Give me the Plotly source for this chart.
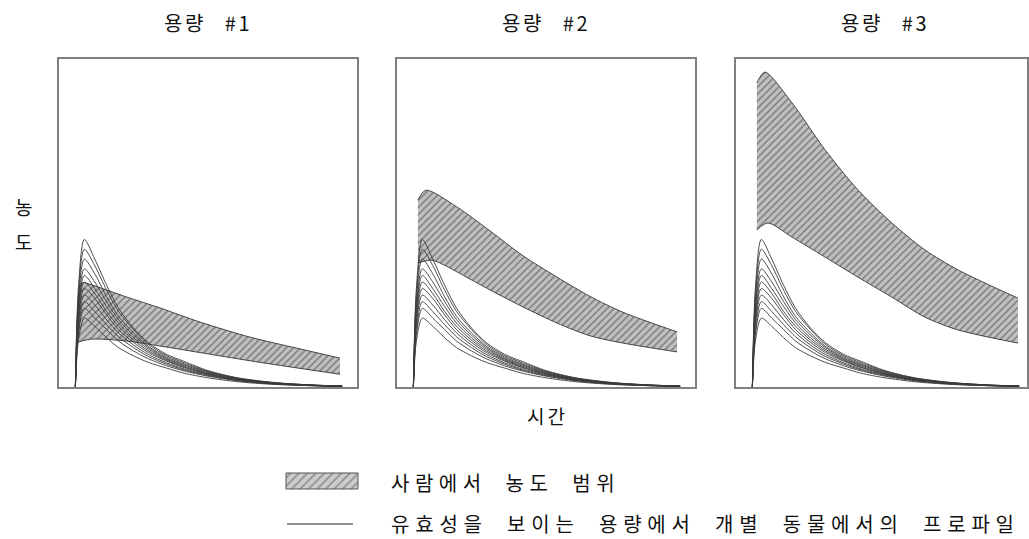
import plotly.graph_objects as go

# ---------------- data ----------------
panel_titles = ["용량 #1", "용량 #2", "용량 #3"]

# time grid shared by the animal profiles (x axis 0-100, arbitrary time units)
animal_time = [5.5, 6.5, 8.5, 12, 16, 20, 25, 30, 36, 42, 50, 60, 72, 85, 95]

# individual animal concentration profiles (y axis 0-100, arbitrary units)
animal_1 = [0, 30, 45, 39, 31, 24, 18, 13.5, 10, 7.8, 5, 2.8, 1.4, 0.6, 0.3]
animal_2 = [0, 28, 42, 37, 29.5, 23, 17.5, 13, 9.6, 7.4, 4.8, 2.7, 1.3, 0.6, 0.3]
animal_3 = [0, 26, 39, 34.5, 27.5, 21.5, 16.5, 12.4, 9.2, 7, 4.6, 2.6, 1.3, 0.6, 0.3]
animal_4 = [0, 24, 36, 32, 26, 20.5, 15.8, 12, 8.8, 6.7, 4.4, 2.5, 1.2, 0.5, 0.3]
animal_5 = [0, 23, 34, 30, 24.5, 19.5, 15, 11.5, 8.5, 6.4, 4.2, 2.4, 1.2, 0.5, 0.3]
animal_6 = [0, 21, 32, 28.5, 23, 18.5, 14.3, 11, 8.2, 6.1, 4.0, 2.3, 1.1, 0.5, 0.2]
animal_7 = [0, 20, 30, 27, 22, 17.5, 13.6, 10.5, 7.9, 5.9, 3.9, 2.2, 1.1, 0.5, 0.2]
animal_8 = [0, 19, 28, 25, 20.5, 16.5, 12.8, 9.9, 7.4, 5.5, 3.7, 2.1, 1.0, 0.5, 0.2]
animal_9 = [0, 17, 26, 23, 19, 15.3, 12, 9.3, 7, 5.2, 3.5, 2.0, 1.0, 0.4, 0.2]
animal_10 = [0, 16, 24, 21, 17.5, 14, 11, 8.6, 6.5, 4.9, 3.3, 1.9, 0.9, 0.4, 0.2]
animal_11 = [0, 14, 21, 18.5, 15, 12, 9.5, 7.5, 5.8, 4.2, 2.8, 1.6, 0.8, 0.4, 0.2]
animal_profiles = [animal_1, animal_2, animal_3, animal_4, animal_5, animal_6,
                   animal_7, animal_8, animal_9, animal_10, animal_11]

# human concentration range bands: upper and lower edges per dose
band1_upper_x = [6.4, 8.0, 10.4, 22.8, 33.9, 47.3, 64.1, 80.0, 94.3]
band1_upper_y = [30.0, 31.8, 31.3, 27.4, 24.1, 19.8, 15.2, 11.8, 8.8]
band1_lower_x = [6.4, 11.0, 22.8, 33.9, 47.3, 64.1, 80.0, 94.3]
band1_lower_y = [13.7, 14.6, 14.0, 12.5, 10.5, 8.0, 5.8, 3.9]

band2_upper_x = [7.0, 9.7, 20.1, 31.2, 42.3, 53.7, 64.8, 75.8, 94.0]
band2_upper_y = [57.0, 60.0, 54.9, 47.6, 40.0, 33.5, 27.6, 22.8, 16.8]
band2_lower_x = [7.0, 11.4, 14.4, 31.2, 42.3, 53.7, 64.8, 75.8, 94.0]
band2_lower_y = [37.8, 38.7, 37.8, 29.6, 24.4, 19.5, 15.6, 13.4, 10.7]

band3_upper_x = [7.0, 9.7, 18.8, 29.9, 40.9, 52.3, 63.4, 74.5, 94.6]
band3_upper_y = [92.7, 96.0, 86.6, 72.3, 60.1, 50.0, 41.8, 35.7, 27.1]
band3_lower_x = [7.0, 10.7, 18.8, 29.9, 40.9, 52.3, 63.4, 74.5, 94.6]
band3_lower_y = [47.9, 50.0, 45.7, 39.6, 33.5, 27.4, 21.3, 17.4, 13.4]

bands = [
    (band1_upper_x, band1_upper_y, band1_lower_x, band1_lower_y),
    (band2_upper_x, band2_upper_y, band2_lower_x, band2_lower_y),
    (band3_upper_x, band3_upper_y, band3_lower_x, band3_lower_y),
]

legend_labels = ["사람에서 농도 범위", "유효성을 보이는 용량에서 개별 동물에서의 프로파일"]
x_label = "시간"
y_label_chars = ["농", "도"]

# ---------------- figure ----------------
W, H = 1029, 539
FONT = "Noto Sans CJK KR, Noto Sans, sans-serif"
HATCH = dict(shape="/", bgcolor="#c0c0c0", fgcolor="#3a3a3a", size=5, solidity=0.3)

fig = go.Figure()

panel_px = [(59, 357), (397, 695), (736, 1027)]
top_px, bot_px = 59, 387

for i, (ux, uy, lx, ly) in enumerate(bands):
    ax = "" if i == 0 else str(i + 1)
    # lower edge first, then upper edge filled down to it
    fig.add_trace(go.Scatter(
        x=lx, y=ly, xaxis="x" + ax, yaxis="y" + ax, mode="lines",
        line=dict(color="#444444", width=1, shape="spline", smoothing=0.8),
        showlegend=False, hoverinfo="skip"))
    fig.add_trace(go.Scatter(
        x=ux, y=uy, xaxis="x" + ax, yaxis="y" + ax, mode="lines",
        fill="tonexty", fillcolor="#c0c0c0", fillpattern=HATCH,
        line=dict(color="#444444", width=1, shape="spline", smoothing=0.8),
        showlegend=False, hoverinfo="skip"))
    for prof in animal_profiles:
        fig.add_trace(go.Scatter(
            x=animal_time, y=prof, xaxis="x" + ax, yaxis="y" + ax,
            mode="lines", line=dict(color="#3a3a3a", width=0.9, shape="spline", smoothing=0.8),
            showlegend=False, hoverinfo="skip"))

# legend swatch and line on a pixel-based overlay axis
fig.add_trace(go.Scatter(
    x=[286, 358, 358, 286, 286], y=[473, 473, 489, 489, 473], xaxis="x4", yaxis="y4",
    mode="lines", fill="toself", fillcolor="#c9c9c9",
    fillpattern=dict(shape="/", bgcolor="#cccccc", fgcolor="#555555", size=6, solidity=0.3),
    line=dict(color="#555555", width=1), showlegend=False, hoverinfo="skip"))
fig.add_trace(go.Scatter(
    x=[287, 353], y=[524, 524], xaxis="x4", yaxis="y4", mode="lines",
    line=dict(color="#222222", width=1), showlegend=False, hoverinfo="skip"))

layout = dict(
    width=W, height=H, margin=dict(l=0, r=0, t=0, b=0),
    paper_bgcolor="white", plot_bgcolor="rgba(0,0,0,0)", showlegend=False,
    font=dict(family=FONT, color="#111111"),
)
for i, (l, r) in enumerate(panel_px):
    ax = "" if i == 0 else str(i + 1)
    width_units = 100 * (r - l) / 298
    layout["xaxis" + ax] = dict(
        domain=[l / W, r / W], range=[0, width_units], showgrid=False, zeroline=False,
        showticklabels=False, ticks="", showline=True, mirror=True, linecolor="#808080",
        linewidth=1.5, anchor="y" + ax, fixedrange=True)
    layout["yaxis" + ax] = dict(
        domain=[1 - bot_px / H, 1 - top_px / H], range=[0, 100], showgrid=False, zeroline=False,
        showticklabels=False, ticks="", showline=True, mirror=True, linecolor="#808080",
        linewidth=1.5, anchor="x" + ax, fixedrange=True)
layout["xaxis4"] = dict(domain=[0, 1], range=[0, W], visible=False, anchor="y4", fixedrange=True)
layout["yaxis4"] = dict(domain=[0, 1], range=[H, 0], visible=False, anchor="x4", fixedrange=True)
fig.update_layout(**layout)

def sp(text, ls, ws):
    return '<span style="letter-spacing:%.1fpx;word-spacing:%.1fpx">%s</span>' % (ls, ws, text)

ann = []
for i, (l, r) in enumerate(panel_px):
    cx = (l + l + 298) / 2
    ann.append(dict(x=cx, y=22, text=sp(panel_titles[i], 2.5, 12), font=dict(size=20, family=FONT)))
ann.append(dict(x=547, y=415, text=sp(x_label, 3, 0), font=dict(size=19, family=FONT)))
ann.append(dict(x=23, y=206, text=y_label_chars[0], font=dict(size=19, family=FONT)))
ann.append(dict(x=23, y=241, text=y_label_chars[1], font=dict(size=19, family=FONT)))
ann.append(dict(x=389, y=482, text=sp(legend_labels[0], 5.5, 9), xanchor="left", font=dict(size=20, family=FONT)))
ann.append(dict(x=389, y=523, text=sp(legend_labels[1], 5.8, 9), xanchor="left", font=dict(size=20, family=FONT)))
for a in ann:
    a.update(xref="x4", yref="y4", showarrow=False)
    a.setdefault("xanchor", "center")
    a["yanchor"] = "middle"
fig.update_layout(annotations=ann)

fig.write_html("out.html", config={"displayModeBar": False},
               post_script="document.body.style.margin='0';document.body.style.padding='0';")
